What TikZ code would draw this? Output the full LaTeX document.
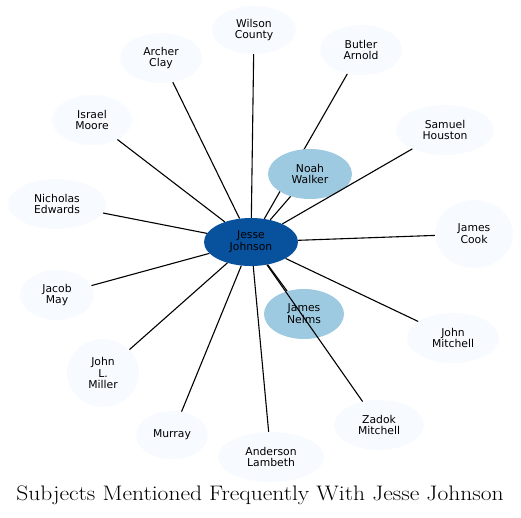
\documentclass[tikz,border=0pt]{standalone}
\usepackage{fontspec}
\setsansfont{DejaVu Sans}
\usetikzlibrary{shapes.geometric}
\pgfdeclarelayer{background}
\pgfsetlayers{background,main}

\definecolor{hubblue}{HTML}{08519C}
\definecolor{midblue}{HTML}{9ECAE1}
\definecolor{paleblue}{HTML}{F7FBFF}

\begin{document}
\begin{tikzpicture}[x=1pt, y=-1pt,
    person/.style={ellipse, draw=none, fill=paleblue, inner sep=0pt, align=center,
      font=\sffamily\fontsize{10.8}{11.8}\selectfont},
    near/.style={person, fill=midblue},
    hub/.style={person, fill=hubblue},
    link/.style={black, line width=1.1pt}]
    \useasboundingbox (0,0) rectangle (521,517);
    % centre and close subjects
    \node[hub, minimum width=94pt, minimum height=48pt] (jesse) at (251,242) {Jesse\\Johnson};
    \node[near, minimum width=84pt, minimum height=50pt] (noah) at (310,174) {Noah\\Walker};
    \node[near, minimum width=80pt, minimum height=50pt] (nelms) at (304,314) {James\\Nelms};
    % outer ring
    \node[person, minimum width=84pt, minimum height=48pt] (wilson) at (254,30) {Wilson\\County};
    \node[person, minimum width=82pt, minimum height=50pt] (archer) at (161,58) {Archer\\Clay};
    \node[person, minimum width=82pt, minimum height=50pt] (butler) at (361,50) {Butler\\Arnold};
    \node[person, minimum width=80pt, minimum height=50pt] (israel) at (92,120) {Israel\\Moore};
    \node[person, minimum width=98pt, minimum height=50pt] (samuel) at (445,130) {Samuel\\Houston};
    \node[person, minimum width=98pt, minimum height=50pt] (nicholas) at (57,204) {Nicholas\\Edwards};
    \node[person, minimum width=78pt, minimum height=68pt] (cook) at (474,234) {James\\Cook};
    \node[person, minimum width=74pt, minimum height=50pt] (jacob) at (57,295) {Jacob\\May};
    \node[person, minimum width=92pt, minimum height=50pt] (mitchell) at (453,338) {John\\Mitchell};
    \node[person, minimum width=72pt, minimum height=68pt] (miller) at (103,373) {John\\L.\\Miller};
    \node[person, minimum width=72pt, minimum height=48pt] (murray) at (172,435) {Murray};
    \node[person, minimum width=106pt, minimum height=50pt] (lambeth) at (271,457) {Anderson\\Lambeth};
    \node[person, minimum width=90pt, minimum height=50pt] (zadok) at (379,425) {Zadok\\Mitchell};
    % edges
    \begin{pgfonlayer}{background}
    \draw[link] (jesse) -- (butler);
    \end{pgfonlayer}
    \foreach \other in {noah, nelms, wilson, archer, israel, samuel, nicholas, cook,
      jacob, mitchell, miller, murray, lambeth, zadok}
      \draw[link] (jesse) -- (\other);
    % title
    \node[font=\fontsize{21}{24}\selectfont] (title) at (260,495)
      {\scalebox{1.12}[1]{Subjects Mentioned Frequently With Jesse Johnson}};
\end{tikzpicture}
\end{document}
